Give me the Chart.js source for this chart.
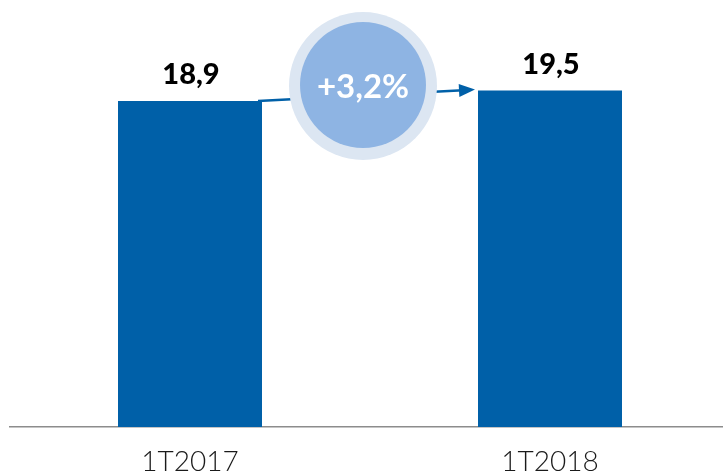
<!DOCTYPE html>
<html lang="pt">
<head>
    <meta charset="UTF-8">
    <title>1T2017 vs 1T2018</title>
    <script src="https://cdn.jsdelivr.net/npm/chart.js@4.4.1/dist/chart.umd.min.js"></script>
    <style>
        html, body { margin: 0; padding: 0; background: #fff; overflow: hidden; }
        #wrap { width: 730px; height: 473px; }
    </style>
</head>
<body>
    <div id="wrap"><canvas id="chart"></canvas></div>

    <script>
        const categories = ['1T2017', '1T2018'];
        const values = [18.9, 19.5];
        const valueLabels = ['18,9', '19,5'];
        const changeLabel = '+3,2%';

        const barBlue = '#0060a8';

        // labels above bars + growth bubble with arrow
        const overlay = {
            id: 'overlay',
            afterDatasetsDraw(chart) {
                const ctx = chart.ctx;
                const bars = chart.getDatasetMeta(0).data;
                const b1 = bars[0].getProps(['x', 'y', 'width'], true);
                const b2 = bars[1].getProps(['x', 'y', 'width'], true);

                ctx.save();
                ctx.fillStyle = '#000';
                ctx.font = '900 29px Lato';
                ctx.textAlign = 'center';
                ctx.textBaseline = 'alphabetic';
                ctx.fillText(valueLabels[0], b1.x + 1, b1.y - 17);
                ctx.fillText(valueLabels[1], b2.x + 1, b2.y - 17);

                // arrow from bar 1 to bar 2
                const x0 = b1.x + b1.width / 2 - 4, y0 = b1.y;
                const x1 = b2.x - b2.width / 2 - 3, y1 = b2.y - 1;
                const ang = Math.atan2(y1 - y0, x1 - x0);
                ctx.strokeStyle = barBlue;
                ctx.lineWidth = 2.5;
                ctx.beginPath();
                ctx.moveTo(x0, y0);
                ctx.lineTo(x1 - 12 * Math.cos(ang), y1 - 12 * Math.sin(ang));
                ctx.stroke();
                ctx.fillStyle = barBlue;
                ctx.beginPath();
                ctx.moveTo(x1, y1);
                ctx.lineTo(x1 - 16 * Math.cos(ang) + 6.5 * Math.sin(ang), y1 - 16 * Math.sin(ang) - 6.5 * Math.cos(ang));
                ctx.lineTo(x1 - 16 * Math.cos(ang) - 6.5 * Math.sin(ang), y1 - 16 * Math.sin(ang) + 6.5 * Math.cos(ang));
                ctx.closePath();
                ctx.fill();

                // bubble
                const cx = (b1.x + b2.x) / 2 - 7, cy = 86;
                ctx.fillStyle = '#dce6f2';
                ctx.beginPath();
                ctx.arc(cx, cy, 74, 0, Math.PI * 2);
                ctx.fill();
                ctx.fillStyle = '#8eb4e3';
                ctx.beginPath();
                ctx.arc(cx, cy - 1, 63, 0, Math.PI * 2);
                ctx.fill();

                ctx.fillStyle = '#fff';
                ctx.font = 'bold 33px Lato';
                ctx.textBaseline = 'middle';
                ctx.fillText(changeLabel, cx, cy + 1);
                ctx.restore();
            }
        };

        new Chart(document.getElementById('chart'), {
            type: 'bar',
            data: {
                labels: categories,
                datasets: [{
                    data: values,
                    backgroundColor: barBlue,
                    borderWidth: 0,
                    categoryPercentage: 1,
                    barPercentage: 0.4
                }]
            },
            options: {
                responsive: true,
                maintainAspectRatio: false,
                animation: false,
                layout: { padding: { left: 10, right: 0, top: 0, bottom: 0 } },
                plugins: {
                    legend: { display: false },
                    tooltip: { enabled: false }
                },
                scales: {
                    x: {
                        grid: { display: false, drawTicks: false },
                        border: { display: true, color: '#8c8c8c', width: 1.5 },
                        ticks: {
                            color: '#1a1a1a',
                            font: { family: 'Lato', size: 28, weight: '300' },
                            padding: 18
                        },
                        afterFit(scale) { scale.height = 46; }
                    },
                    y: {
                        display: false,
                        min: 0,
                        max: 24.75
                    }
                }
            },
            plugins: [overlay]
        });
    </script>
</body>
</html>
